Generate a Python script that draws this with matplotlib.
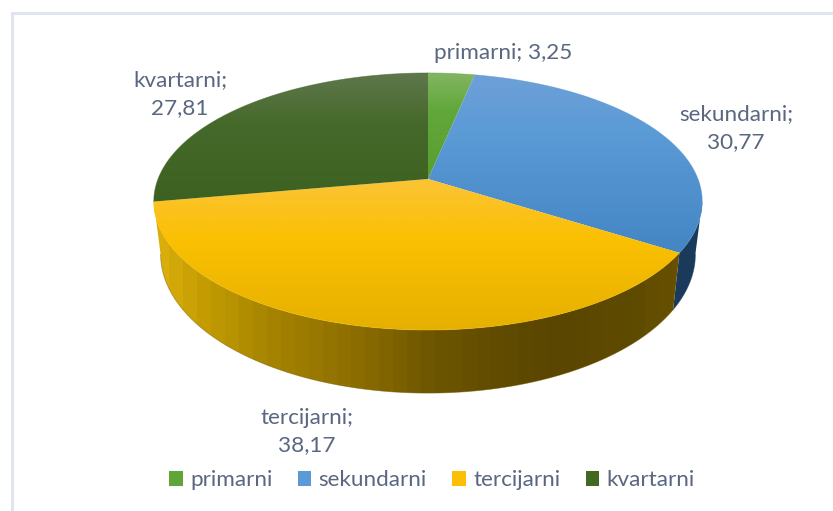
import numpy as np
import matplotlib
matplotlib.use("Agg")
import matplotlib.pyplot as plt
from matplotlib.colors import to_rgb
from matplotlib.patches import Patch, Polygon

plt.rcParams['font.family'] = ['Lato', 'DejaVu Sans']

categories = ['primarni', 'sekundarni', 'tercijarni', 'kvartarni']
values = [3.25, 30.77, 38.17, 27.81]
colors = ['#5fa537', '#5b9bd5', '#fbbf05', '#41691f']

# vertical gradient of each top face (y pixel, colour)
top_grad = [
    [(73, '#82b562'), (110, '#62a73a'), (179, '#5a9e30')],
    [(75, '#6ea0d8'), (130, '#5b9bd6'), (252, '#4485c4')],
    [(179, '#fbc436'), (240, '#fbc002'), (330, '#e5b000')],
    [(73, '#5f774c'), (125, '#45692a'), (200, '#3d6120')],
]
# side wall of the yellow slice, colour by x pixel
wall_x = [155, 200, 260, 330, 390, 430, 500, 560, 640, 680]
wall_c = ['#dcb00c', '#c69e03', '#a98700', '#947400', '#7f6300', '#6e5600',
          '#604b00', '#5a4600', '#5f4c00', '#6a5000']
wall_blue = '#1a3a5c'

# projection of the tilted pie
cx, cy = 428, 179
bx, ay, k = 270, 124.6, 0.175
low_x, low_y, low_sy = 0.975, 230, 1.08


def project(theta):
    t = np.radians(theta)
    w = 1 + k * np.cos(t)
    return bx * np.sin(t) / w, ay * np.cos(t) / w


def top_curve(theta):
    x, y = project(theta)
    return cx + x, cy - y


def low_curve(theta):
    x, y = project(theta)
    return cx + low_x * x, low_y - low_sy * y


fig = plt.figure(figsize=(8.33, 5.11), dpi=100)
ax = fig.add_axes([0, 0, 1, 1])
ax.axis('off')

# frame of the chart area
ax.plot([12, 12, 833], [511, 13.5, 13.5], color='#e0e4f0', lw=2.2, solid_joinstyle='miter')

edges = np.cumsum([0] + values) / sum(values) * 360

# side wall, vertical bands
vis_a, vis_b = 100, 260
for i in range(len(values)):
    a = max(edges[i], vis_a)
    b = min(edges[i + 1], vis_b)
    if b <= a:
        continue
    th = np.linspace(a, b, 200)
    tx, ty = top_curve(th)
    lx, ly = low_curve(th)
    pts = np.c_[np.r_[tx, lx[::-1]], np.r_[ty, ly[::-1]]]
    poly = Polygon(pts, closed=True, fc='none', ec='none')
    ax.add_patch(poly)
    x0, x1 = pts[:, 0].min() - 2, pts[:, 0].max() + 2
    y0, y1 = pts[:, 1].min() - 2, pts[:, 1].max() + 2
    if categories[i] == 'sekundarni':
        col = np.array(to_rgb(wall_blue))[None, None, :]
    else:
        xs = np.arange(x0, x1)
        xq = np.floor(xs / 14) * 14 + 7
        rgb = [to_rgb(h) for h in wall_c]
        col = np.stack([np.interp(xq, wall_x, [r[j] for r in rgb]) for j in range(3)], axis=1)[None, :, :]
    im = ax.imshow(col, extent=(x0, x1, y1, y0), aspect='auto', interpolation='bilinear', zorder=2)
    im.set_clip_path(poly)
    ax.plot(lx, ly, color=col[0, col.shape[1] // 2], lw=0.6, alpha=0.5, zorder=2)

# top faces with vertical gradient
for i in range(len(values)):
    th = np.linspace(edges[i], edges[i + 1], 200)
    px, py = top_curve(th)
    pts = np.c_[np.r_[cx, px], np.r_[cy, py]]
    ys = np.arange(int(pts[:, 1].min()) - 3, int(pts[:, 1].max()) + 4)
    stops = top_grad[i]
    rgb = [to_rgb(c) for _, c in stops]
    sy = [s[0] for s in stops]
    grad = np.stack([np.interp(ys, sy, [r[j] for r in rgb]) for j in range(3)], axis=1)[:, None, :]
    poly = Polygon(pts, closed=True, fc='none', ec='none')
    ax.add_patch(poly)
    im = ax.imshow(grad, extent=(pts[:, 0].min() - 2, pts[:, 0].max() + 2, ys[-1], ys[0]),
                   aspect='auto', interpolation='bilinear', zorder=3)
    im.set_clip_path(poly)
    # thin outline to smooth the clipped edge
    ax.plot(px, py, color=grad[len(grad) // 2, 0], lw=0.6, alpha=0.5, zorder=4)

ax.set_xlim(0, 833)
ax.set_ylim(511, 0)

# data labels
txt = '#5a6780'
fs = 16.2
lab_pos = [(503, 53), (736, 128.5), (307, 431.5), (180, 94)]
for cat, val, (lx, ly) in zip(categories, values, lab_pos):
    num = f'{val:.2f}'.replace('.', ',')
    sep = ' ' if cat == 'primarni' else '\n'
    ax.text(lx, ly, f'{cat};{sep}{num}', ha='center', va='center', color=txt,
            fontsize=fs, linespacing=1.49, zorder=5)

# legend
handles = [Patch(fc=c, ec='none') for c in colors]
leg = ax.legend(handles, categories, loc='center', bbox_to_anchor=(432, 480.5),
                bbox_transform=ax.transData, ncol=4, frameon=False, fontsize=fs,
                labelcolor=txt, handlelength=0.6, handleheight=0.6,
                handletextpad=0.32, columnspacing=1.13)

fig.savefig('out.png', dpi=100)
